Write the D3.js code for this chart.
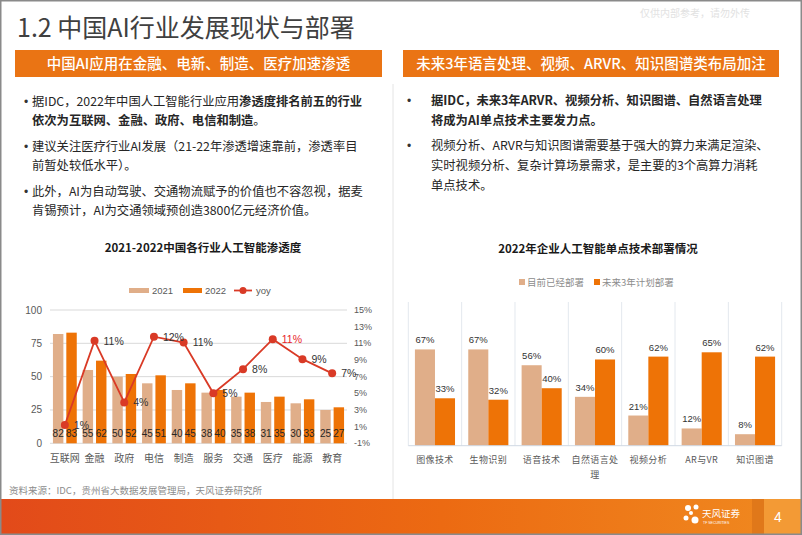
<!DOCTYPE html>
<html><head><meta charset="utf-8">
<script src="https://cdn.jsdelivr.net/npm/d3@7"></script>
<style>body{margin:0;background:#fff;} svg{display:block;}</style>
</head><body><svg id="c" width="802" height="535"></svg>
<script>
// ---------- data ----------
const industries = ["互联网","金融","政府","电信","制造","服务","交通","医疗","能源","教育"];
const pen2021 = [82,55,50,45,40,38,35,31,30,25];
const pen2022 = [83,62,52,51,45,40,38,35,33,27];
const yoy = [1.2,11.3,3.9,11.8,11.1,5.0,7.9,11.5,9.1,7.4];
const yoyLabels = ["1%","11%","4%","12%","11%","5%","8%","11%","9%","7%"];
const leftTicks = [0,25,50,75,100];
const rightTicks = [-1,1,3,5,7,9,11,13,15];
const techs = ["图像技术","生物识别","语音技术","自然语言处理","视频分析","AR与VR","知识图谱"];
const deployedNow = [67,67,56,34,21,12,8];
const planned3y = [33,32,40,60,62,65,62];
const leftBullets = [
  [[["据IDC，2022年中国人工智能行业应用",0],["渗透度排名前五的行业",1]],[["依次为互联网、金融、政府、电信和制造",1],["。",0]]],
  [[["建议关注医疗行业AI发展（21-22年渗透增速靠前，渗透率目",0]],[["前暂处较低水平）。",0]]],
  [[["此外，AI为自动驾驶、交通物流赋予的价值也不容忽视，据麦",0]],[["肯锡预计，AI为交通领域预创造3800亿元经济价值。",0]]]
];
const rightBullets = [
  [[["据IDC，未来3年ARVR、视频分析、知识图谱、自然语言处理",1]],[["将成为AI单点技术主要发力点。",1]]],
  [[["视频分析、ARVR与知识图谱需要基于强大的算力来满足渲染、",0]],[["实时视频分析、复杂计算场景需求，是主要的3个高算力消耗",0]],[["单点技术。",0]]]
];

const FONT = '"Liberation Sans","Noto Sans CJK SC",sans-serif';
const CJK = '"Noto Sans CJK SC","Liberation Sans",sans-serif';
const C21 = "#E0AE89", C22 = "#EE7306", LINE = "#D93A26";
const svg = d3.select("#c");

// ---------- slide frame ----------
svg.append("rect").attr("x",0).attr("y",0).attr("width",802).attr("height",535).attr("fill","#fff");
svg.append("text").attr("x",640).attr("y",17).attr("font-family",CJK).attr("font-size",10)
  .attr("fill","#e2e2e2").text("仅供内部参考，请勿外传");
svg.append("text").attr("x",17).attr("y",37).attr("font-family",CJK).attr("font-size",25)
  .attr("fill","#404040").text("1.2 中国AI行业发展现状与部署");
svg.append("line").attr("x1",393).attr("x2",393).attr("y1",84).attr("y2",499).attr("stroke","#e4e4e4");

function header(x0,x1,txt){
  svg.append("rect").attr("x",x0).attr("y",50).attr("width",x1-x0).attr("height",27).attr("fill","#EA7414");
  svg.append("text").attr("x",(x0+x1)/2).attr("y",69).attr("text-anchor","middle")
    .attr("font-family",CJK).attr("font-size",14.5).attr("font-weight",500).attr("fill","#fff").text(txt);
}
header(15,382,"中国AI应用在金融、电新、制造、医疗加速渗透");
header(403,779,"未来3年语言处理、视频、ARVR、知识图谱类布局加注");

function bullets(list, bx, tx, y0, lh, pg){
  let y = y0;
  list.forEach(par=>{
    svg.append("text").attr("x",bx).attr("y",y).attr("font-family",FONT).attr("font-size",12)
      .attr("fill","#333").text("•");
    par.forEach(line=>{
      const t = svg.append("text").attr("x",tx).attr("y",y).attr("font-family",CJK)
        .attr("font-size",12.3).attr("fill","#262626");
      line.forEach(([s,b])=>t.append("tspan").attr("font-weight",b?"bold":"normal").text(s));
      y += lh;
    });
    y += pg - lh;
  });
}
bullets(leftBullets,24,32,106,18.5,26.5);
bullets(rightBullets,407,431,104.5,20,25);

// ---------- left chart ----------
svg.append("text").attr("x",203).attr("y",252).attr("text-anchor","middle").attr("font-family",CJK)
  .attr("font-size",11.5).attr("font-weight","bold").attr("fill","#1a1a1a").text("2021-2022中国各行业人工智能渗透度");

// legend
const lgL = svg.append("g").attr("font-family",FONT).attr("font-size",9.5).attr("fill","#595959");
lgL.append("rect").attr("x",129).attr("y",288).attr("width",20).attr("height",5).attr("fill",C21);
lgL.append("text").attr("x",152).attr("y",294).text("2021");
lgL.append("rect").attr("x",183).attr("y",288).attr("width",19).attr("height",5).attr("fill",C22);
lgL.append("text").attr("x",205).attr("y",294).text("2022");
lgL.append("line").attr("x1",234).attr("x2",252).attr("y1",290.5).attr("y2",290.5).attr("stroke",LINE).attr("stroke-width",1.8);
lgL.append("circle").attr("cx",243).attr("cy",290.5).attr("r",3.5).attr("fill",LINE);
lgL.append("text").attr("x",256).attr("y",294).text("yoy");

const xL = d3.scaleBand().domain(industries).range([50,347]);
const xIn = d3.scaleBand().domain(["2021","2022"]).range([0,xL.bandwidth()]).paddingInner(0.22).paddingOuter(0.22);
const yL = d3.scaleLinear().domain([0,100]).range([443.3,310]);
const yR = d3.scaleLinear().domain([-1,15]).range([443.3,310]);

const gL = svg.append("g");
gL.selectAll("line.grid").data(leftTicks).join("line").attr("x1",50).attr("x2",347)
  .attr("y1",d=>yL(d)).attr("y2",d=>yL(d)).attr("stroke","#d9d9d9").attr("stroke-width",1);
gL.selectAll("text.lt").data(leftTicks).join("text").attr("x",42).attr("y",d=>yL(d)+3.5)
  .attr("text-anchor","end").attr("font-family",FONT).attr("font-size",10).attr("fill","#595959").text(d=>d);
gL.selectAll("text.rt").data(rightTicks).join("text").attr("x",354).attr("y",d=>yR(d)+3)
  .attr("font-family",FONT).attr("font-size",9).attr("fill","#595959").text(d=>d+"%");

const series = [["2021",pen2021,C21],["2022",pen2022,C22]];
series.forEach(([k,vals,col])=>{
  gL.selectAll(null).data(vals).join("rect")
    .attr("x",(d,i)=>xL(industries[i])+xIn(k)).attr("width",xIn.bandwidth())
    .attr("y",d=>yL(d)).attr("height",d=>yL(0)-yL(d)).attr("fill",col);
  gL.selectAll(null).data(vals).join("text")
    .attr("x",(d,i)=>xL(industries[i])+xIn(k)+xIn.bandwidth()/2).attr("y",437)
    .attr("text-anchor","middle").attr("font-family",FONT).attr("font-size",10).attr("fill","#262626").text(d=>d);
});
gL.selectAll("text.cat").data(industries).join("text").attr("x",d=>xL(d)+xL.bandwidth()/2).attr("y",462)
  .attr("text-anchor","middle").attr("font-family",CJK).attr("font-size",10).attr("fill","#595959").text(d=>d);

const cx = i=>xL(industries[i])+xL.bandwidth()/2;
gL.append("path").datum(yoy).attr("d",d3.line().x((d,i)=>cx(i)).y(d=>yR(d)))
  .attr("fill","none").attr("stroke",LINE).attr("stroke-width",1.8);
gL.selectAll("circle.p").data(yoy).join("circle").attr("cx",(d,i)=>cx(i)).attr("cy",d=>yR(d)).attr("r",4).attr("fill",LINE);
gL.selectAll("text.yl").data(yoy).join("text").attr("x",(d,i)=>cx(i)+9).attr("y",d=>yR(d)+4)
  .attr("font-family",FONT).attr("font-size",10.5)
  .attr("fill",(d,i)=>industries[i]==="医疗"?"#E8262C":"#333").text((d,i)=>yoyLabels[i]);

// ---------- right chart ----------
svg.append("text").attr("x",598).attr("y",253).attr("text-anchor","middle").attr("font-family",CJK)
  .attr("font-size",11.5).attr("font-weight","bold").attr("fill","#1a1a1a").text("2022年企业人工智能单点技术部署情况");
const lgR = svg.append("g").attr("font-family",CJK).attr("font-size",9.5).attr("fill","#8c8c8c");
lgR.append("rect").attr("x",519).attr("y",279).attr("width",6).attr("height",6).attr("fill",C21);
lgR.append("text").attr("x",527).attr("y",285.5).text("目前已经部署");
lgR.append("rect").attr("x",594).attr("y",279).attr("width",6).attr("height",6).attr("fill",C22);
lgR.append("text").attr("x",602).attr("y",285.5).text("未来3年计划部署");

const xR = d3.scaleBand().domain(techs).range([408.3,781.7]);
const xR2 = d3.scaleBand().domain(["now","plan"]).range([0,xR.bandwidth()]).paddingInner(0).paddingOuter(0.33);
const yR2 = d3.scaleLinear().domain([0,100]).range([445.7,302]);
const gR = svg.append("g");
const seps = techs.map(t=>xR(t)).concat([xR.range()[1]]);
gR.selectAll("line.sep").data(seps).join("line").attr("x1",d=>d).attr("x2",d=>d)
  .attr("y1",yR2(100)).attr("y2",yR2(0)).attr("stroke","#e3e8ee").attr("stroke-width",1);
[["now",deployedNow,C21],["plan",planned3y,C22]].forEach(([k,vals,col])=>{
  gR.selectAll(null).data(vals).join("rect")
    .attr("x",(d,i)=>xR(techs[i])+xR2(k)).attr("width",xR2.bandwidth())
    .attr("y",d=>yR2(d)).attr("height",d=>yR2(0)-yR2(d)).attr("fill",col);
  gR.selectAll(null).data(vals).join("text")
    .attr("x",(d,i)=>xR(techs[i])+xR2(k)+xR2.bandwidth()/2).attr("y",d=>yR2(d)-6)
    .attr("text-anchor","middle").attr("font-family",FONT).attr("font-size",9.5).attr("fill","#333").text(d=>d+"%");
});
gR.append("line").attr("x1",408.3).attr("x2",781.7).attr("y1",445.7).attr("y2",445.7).attr("stroke","#cfd8e3");
techs.forEach(t=>{
  const lines = t.length>5 ? [t.slice(0,5),t.slice(5)] : [t];
  lines.forEach((s,j)=>{
    gR.append("text").attr("x",xR(t)+xR.bandwidth()/2).attr("y",463+j*15).attr("text-anchor","middle")
      .attr("font-family",CJK).attr("font-size",9).attr("letter-spacing",0.4).attr("fill","#595959").text(s);
  });
});

// ---------- footer ----------
svg.append("text").attr("x",9).attr("y",494).attr("font-family",CJK).attr("font-size",9.5)
  .attr("fill","#8c8c8c").text("资料来源：IDC，贵州省大数据发展管理局，天风证券研究所");
const grad = svg.append("defs").append("linearGradient").attr("id","fg");
grad.append("stop").attr("offset","0").attr("stop-color","#E24A1A");
grad.append("stop").attr("offset","0.55").attr("stop-color","#EC6A12");
grad.append("stop").attr("offset","1").attr("stop-color","#F08A20");
svg.append("rect").attr("x",0).attr("y",499).attr("width",802).attr("height",35).attr("fill","url(#fg)");
svg.append("rect").attr("x",752).attr("y",499).attr("width",12).attr("height",35).attr("fill","#E0781A");
svg.append("rect").attr("x",764).attr("y",499).attr("width",38).attr("height",35).attr("fill","#F39A35");
const logo = svg.append("g").attr("fill","#fff");
[[688,508,3],[696,507,2.5],[686,518,2.5],[695,520,3.5],[691,513,2]].forEach(([x,y,r])=>
  logo.append("circle").attr("cx",x).attr("cy",y).attr("r",r));
logo.append("text").attr("x",702).attr("y",517).attr("font-family",CJK).attr("font-size",9.5).text("天风证券");
logo.append("text").attr("x",703).attr("y",524).attr("font-family",FONT).attr("font-size",3.5).text("TF SECURITIES");
svg.append("text").attr("x",778).attr("y",522).attr("text-anchor","middle").attr("font-family",FONT)
  .attr("font-size",14).attr("fill","#fff").text("4");
svg.append("rect").attr("x",0.75).attr("y",0.75).attr("width",800.5).attr("height",533.5)
  .attr("fill","none").attr("stroke","#8a8a8a").attr("stroke-width",1.5);
</script></body></html>
